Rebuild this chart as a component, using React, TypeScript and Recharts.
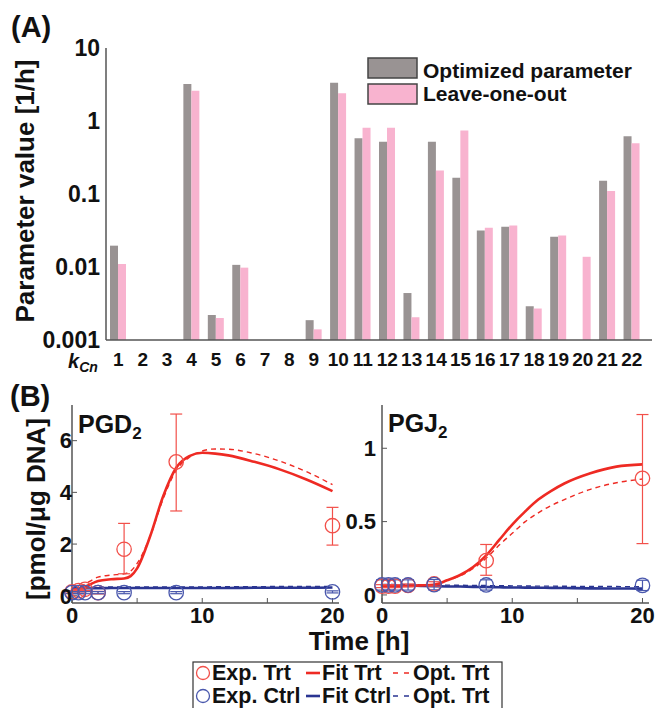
import React from 'react';
import { BarChart, Bar, XAxis, YAxis, ComposedChart, Line, Scatter, ErrorBar } from 'recharts';

const FONT = '"Liberation Sans", Arial, Helvetica, sans-serif';

// ---- Panel A data ----
const CATEGORIES = ['1','2','3','4','5','6','7','8','9','10','11','12','13','14','15','16','17','18','19','20','21','22'];
const OPTIMIZED = [0.0196, null, null, 3.2, 0.0022, 0.0107, null, null, 0.00187, 3.35, 0.58, 0.52, 0.0044, 0.52, 0.167, 0.0315, 0.0357, 0.0029, 0.026, null, 0.152, 0.62];
const LEAVE_ONE_OUT = [0.011, null, null, 2.6, 0.002, 0.0098, null, null, 0.0014, 2.4, 0.81, 0.81, 0.00205, 0.21, 0.74, 0.0345, 0.037, 0.0027, 0.027, 0.0138, 0.11, 0.495];
const LOG_TICKS = [0.001, 0.01, 0.1, 1, 10];

// ---- Panel B: PGD2 ----
const PGD_TIME = [0, 1, 2, 3, 4, 4.5, 5, 6, 7, 8, 9, 10, 11, 12, 14, 16, 18, 20];
const PGD_FIT_TRT = [0.2, 0.35, 0.57, 0.64, 0.67, 0.76, 1.06, 2.3, 3.85, 4.95, 5.4, 5.53, 5.5, 5.43, 5.18, 4.88, 4.5, 4.05];
const PGD_OPT_TRT = [0.2, 0.45, 0.72, 0.8, 0.85, 0.95, 1.25, 2.3, 3.75, 4.85, 5.35, 5.6, 5.68, 5.67, 5.5, 5.2, 4.8, 4.3];
const PGD_FIT_CTRL = [0.28, 0.29, 0.29, 0.3, 0.3, 0.3, 0.3, 0.3, 0.3, 0.3, 0.3, 0.3, 0.3, 0.3, 0.31, 0.31, 0.31, 0.32];
const PGD_OPT_CTRL = [0.31, 0.32, 0.33, 0.34, 0.34, 0.34, 0.34, 0.34, 0.34, 0.34, 0.34, 0.34, 0.35, 0.35, 0.35, 0.36, 0.36, 0.36];
const EXP_TIME = [0, 0.5, 1, 2, 4, 8, 20];
const PGD_EXP_TRT = [0.15, 0.2, 0.25, 0.12, 1.8, 5.18, 2.71];
const PGD_EXP_TRT_LO = [0.05, 0.05, 0.05, 0.05, 0.95, 1.9, 0.75];
const PGD_EXP_TRT_HI = [0.05, 0.05, 0.05, 0.05, 1.0, 1.85, 0.71];
const PGD_EXP_CTRL = [0.12, 0.12, 0.12, 0.12, 0.12, 0.12, 0.15];
const PGD_EXP_CTRL_ERR = [0.04, 0.04, 0.04, 0.04, 0.04, 0.04, 0.04];

// ---- Panel B: PGJ2 ----
const PGJ_TIME = [0, 1, 2, 3, 4, 5, 6, 7, 8, 9, 10, 11, 12, 13, 14, 16, 18, 20];
const PGJ_FIT_TRT = [0.06, 0.06, 0.062, 0.065, 0.07, 0.1, 0.136, 0.19, 0.27, 0.375, 0.48, 0.57, 0.65, 0.71, 0.76, 0.83, 0.875, 0.89];
const PGJ_OPT_TRT = [0.06, 0.06, 0.062, 0.065, 0.07, 0.1, 0.13, 0.18, 0.25, 0.34, 0.42, 0.5, 0.56, 0.61, 0.65, 0.72, 0.765, 0.79];
const PGJ_FIT_CTRL = [0.065, 0.064, 0.063, 0.062, 0.06, 0.058, 0.057, 0.055, 0.054, 0.052, 0.051, 0.05, 0.049, 0.048, 0.047, 0.045, 0.044, 0.043];
const PGJ_OPT_CTRL = [0.072, 0.071, 0.07, 0.069, 0.068, 0.067, 0.066, 0.065, 0.064, 0.063, 0.062, 0.061, 0.06, 0.06, 0.059, 0.058, 0.057, 0.056];
const PGJ_EXP_TRT = [0.06, 0.06, 0.06, 0.065, 0.075, 0.234, 0.795];
const PGJ_EXP_TRT_LO = [0.01, 0.01, 0.01, 0.01, 0.015, 0.1, 0.445];
const PGJ_EXP_TRT_HI = [0.01, 0.01, 0.01, 0.01, 0.015, 0.11, 0.435];
const PGJ_EXP_CTRL = [0.068, 0.068, 0.068, 0.068, 0.07, 0.068, 0.065];
const PGJ_EXP_CTRL_ERR = [0.035, 0.035, 0.035, 0.035, 0.035, 0.035, 0.035];

const GRAY = '#999393';
const PINK = '#f8b3cf';
const RED = '#ee2a23';
const RED_C = '#f2504a';
const BLUE = '#2a3592';
const BLUE_C = '#4a58ad';
const FRAME = { stroke: '#555', strokeWidth: 1.5 };

const barData = CATEGORIES.map((k, i) => ({ k, opt: OPTIMIZED[i], loo: LEAVE_ONE_OUT[i] }));
const curves = (time: number[], a: number[], b: number[], c: number[], d: number[]) =>
  time.map((t, i) => ({ t, fitTrt: a[i], optTrt: b[i], fitCtrl: c[i], optCtrl: d[i] }));
const points = (time: number[], v: number[], lo: number[], hi: number[]) =>
  time.map((t, i) => ({ t, v: v[i], e: [lo[i], hi[i]] }));

const pgdCurves = curves(PGD_TIME, PGD_FIT_TRT, PGD_OPT_TRT, PGD_FIT_CTRL, PGD_OPT_CTRL);
const pgjCurves = curves(PGJ_TIME, PGJ_FIT_TRT, PGJ_OPT_TRT, PGJ_FIT_CTRL, PGJ_OPT_CTRL);
const pgdTrt = points(EXP_TIME, PGD_EXP_TRT, PGD_EXP_TRT_LO, PGD_EXP_TRT_HI);
const pgdCtrl = points(EXP_TIME, PGD_EXP_CTRL, PGD_EXP_CTRL_ERR, PGD_EXP_CTRL_ERR);
const pgjTrt = points(EXP_TIME, PGJ_EXP_TRT, PGJ_EXP_TRT_LO, PGJ_EXP_TRT_HI);
const pgjCtrl = points(EXP_TIME, PGJ_EXP_CTRL, PGJ_EXP_CTRL_ERR, PGJ_EXP_CTRL_ERR);

const tickFont = { fontFamily: FONT, fontWeight: 700, fill: '#111' };

const circleShape = (color: string) => (props: any) => (
  <circle cx={props.cx} cy={props.cy} r={7.2} fill="none" stroke={color} strokeWidth={1.3} />
);

function Panel(props: {
  curves: any[]; trt: any[]; ctrl: any[]; yDomain: number[]; yTicks: number[];
  yFmt: (v: number) => string; width: number; yWidth: number; right: number; tickMargin: number;
}) {
  const { curves, trt, ctrl, yDomain, yTicks, yFmt, width, yWidth, right, tickMargin } = props;
  return (
    <ComposedChart width={width} height={250} data={curves} margin={{ top: 25, right, bottom: 0, left: 0 }}>
      <XAxis dataKey="t" type="number" domain={[0, 20.5]} ticks={[0, 5, 10, 15, 20]} interval={0}
        tickFormatter={(v: number) => (v % 10 === 0 ? String(v) : '')}
        height={27} tickSize={-5} tickMargin={9} axisLine={FRAME} tickLine={{ stroke: '#555' }}
        tick={{ ...tickFont, fontSize: 22 }} />
      <XAxis xAxisId="top" orientation="top" dataKey="t" type="number" domain={[0, 20.5]} ticks={[0, 5, 10, 15, 20]}
        height={0} tick={false} mirror tickSize={5} axisLine={FRAME} tickLine={{ stroke: '#555' }} />
      <YAxis type="number" domain={yDomain} ticks={yTicks} interval={0} width={yWidth} tickFormatter={yFmt}
        tickSize={-5} tickMargin={tickMargin} axisLine={FRAME} tickLine={{ stroke: '#555' }}
        tick={{ ...tickFont, fontSize: 22 }} />
      <YAxis yAxisId="r" orientation="right" type="number" domain={yDomain} ticks={yTicks} width={0}
        tick={false} mirror tickSize={5} axisLine={FRAME} tickLine={{ stroke: '#555' }} />
      <Line dataKey="optCtrl" type="monotone" stroke={BLUE} strokeWidth={1.4} strokeDasharray="5 4" dot={false} isAnimationActive={false} />
      <Line dataKey="fitCtrl" type="monotone" stroke={BLUE} strokeWidth={2.6} dot={false} isAnimationActive={false} />
      <Line dataKey="optTrt" type="monotone" stroke={RED} strokeWidth={1.4} strokeDasharray="5 4" dot={false} isAnimationActive={false} />
      <Line dataKey="fitTrt" type="monotone" stroke={RED} strokeWidth={2.6} dot={false} isAnimationActive={false} />
      <Scatter data={trt} dataKey="v" shape={circleShape(RED_C)} isAnimationActive={false}>
        <ErrorBar dataKey="e" direction="y" width={6} stroke={RED_C} strokeWidth={1.2} />
      </Scatter>
      <Scatter data={ctrl} dataKey="v" shape={circleShape(BLUE_C)} isAnimationActive={false}>
        <ErrorBar dataKey="e" direction="y" width={6} stroke={BLUE_C} strokeWidth={1.2} />
      </Scatter>
    </ComposedChart>
  );
}

function Overlay() {
  const t = { fontFamily: FONT, fontWeight: 700, fill: '#111' } as any;
  return (
    <svg width={657} height={708} style={{ position: 'absolute', left: 0, top: 0, pointerEvents: 'none' }}>
      <text x={11} y={37} fontSize={29} {...t}>(A)</text>
      <text x={10} y={406} fontSize={29} {...t}>(B)</text>
      <text transform="translate(25,191) rotate(-90)" textAnchor="middle" dominantBaseline="central" fontSize={26} {...t}>Parameter value [1/h]</text>
      <text transform="translate(36,509) rotate(-90)" textAnchor="middle" dominantBaseline="central" fontSize={26} {...t}>[pmol/μg DNA]</text>
      <text x={68} y={368} fontSize={20} fontStyle="italic" {...t}>k<tspan fontSize={14} dy={4}>Cn</tspan></text>
      <text x={78} y={433} fontSize={25} {...t}>PGD<tspan fontSize={17} dy={6}>2</tspan></text>
      <text x={388} y={432} fontSize={25} {...t}>PGJ<tspan fontSize={17} dy={6}>2</tspan></text>
      <text x={359} y={650} textAnchor="middle" fontSize={26} {...t}>Time [h]</text>
      {/* legend A */}
      <rect x={368} y={58} width={49} height={20} fill={GRAY} stroke="#444" strokeWidth={1.5} />
      <rect x={368} y={84} width={49} height={20} fill={PINK} stroke="#444" strokeWidth={1.5} />
      <text x={423} y={78} fontSize={21} {...t}>Optimized parameter</text>
      <text x={423} y={101} fontSize={21} {...t}>Leave-one-out</text>
      {/* legend B */}
      <rect x={193} y={662} width={309} height={60} fill="#fff" stroke="#333" strokeWidth={1.2} />
      <circle cx={203} cy={673} r={6.5} fill="none" stroke={RED_C} strokeWidth={1.3} />
      <circle cx={203} cy={696} r={6.5} fill="none" stroke={BLUE_C} strokeWidth={1.3} />
      <text x={212} y={680} fontSize={21.5} {...t}>Exp. Trt</text>
      <text x={212} y={703} fontSize={21.5} {...t}>Exp. Ctrl</text>
      <line x1={306} x2={320} y1={673} y2={673} stroke={RED} strokeWidth={2.6} />
      <line x1={306} x2={320} y1={696} y2={696} stroke={BLUE} strokeWidth={2.6} />
      <text x={322} y={680} fontSize={21.5} {...t}>Fit Trt</text>
      <text x={322} y={703} fontSize={21.5} {...t}>Fit Ctrl</text>
      <line x1={393} x2={409} y1={673} y2={673} stroke={RED} strokeWidth={1.4} strokeDasharray="5 6" />
      <line x1={393} x2={409} y1={696} y2={696} stroke={BLUE} strokeWidth={1.4} strokeDasharray="5 6" />
      <text x={413} y={680} fontSize={21.5} {...t}>Opt. Trt</text>
      <text x={413} y={703} fontSize={21.5} {...t}>Opt. Trt</text>
    </svg>
  );
}

export default function App() {
  return (
    <div style={{ position: 'absolute', left: 0, top: 0, width: 657, height: 708, background: '#fff', overflow: 'hidden', fontFamily: FONT }}>
      <div style={{ position: 'absolute', left: 0, top: 0 }}>
        <BarChart width={657} height={380} data={barData} margin={{ top: 48, right: 5, bottom: 0, left: 0 }} barGap={0} barSize={8}>
          <XAxis dataKey="k" interval={0} height={40} padding={{ left: 0, right: 8 }} tickSize={0} tickMargin={13}
            axisLine={FRAME} tickLine={false} tick={{ ...tickFont, fontSize: 19 }} />
          <XAxis xAxisId="top" orientation="top" dataKey="k" height={0} tick={false} tickLine={false} axisLine={FRAME} padding={{ left: 0, right: 8 }} />
          <YAxis scale="log" type="number" domain={[0.001, 10]} allowDataOverflow ticks={LOG_TICKS} interval={0} width={106}
            tickFormatter={(v: number) => String(v)} tickSize={0} tickMargin={6} axisLine={FRAME} tickLine={false}
            tick={{ ...tickFont, fontSize: 23 }} />
          <YAxis yAxisId="r" orientation="right" scale="log" type="number" domain={[0.001, 10]} allowDataOverflow ticks={LOG_TICKS}
            width={0} tick={false} tickLine={false} axisLine={FRAME} />
          <Bar dataKey="opt" fill={GRAY} isAnimationActive={false} />
          <Bar dataKey="loo" fill={PINK} isAnimationActive={false} />
        </BarChart>
      </div>
      <div style={{ position: 'absolute', left: 0, top: 380 }}>
        <Panel curves={pgdCurves} trt={pgdTrt} ctrl={pgdCtrl} yDomain={[-0.28, 7.38]} yTicks={[0, 2, 4, 6]}
          yFmt={(v) => String(v)} width={345} yWidth={72} right={6} tickMargin={5} />
      </div>
      <div style={{ position: 'absolute', left: 345, top: 380 }}>
        <Panel curves={pgjCurves} trt={pgjTrt} ctrl={pgjCtrl} yDomain={[-0.055, 1.295]} yTicks={[0, 0.5, 1]}
          yFmt={(v) => String(v)} width={312} yWidth={37} right={8} tickMargin={11} />
      </div>
      <Overlay />
    </div>
  );
}
